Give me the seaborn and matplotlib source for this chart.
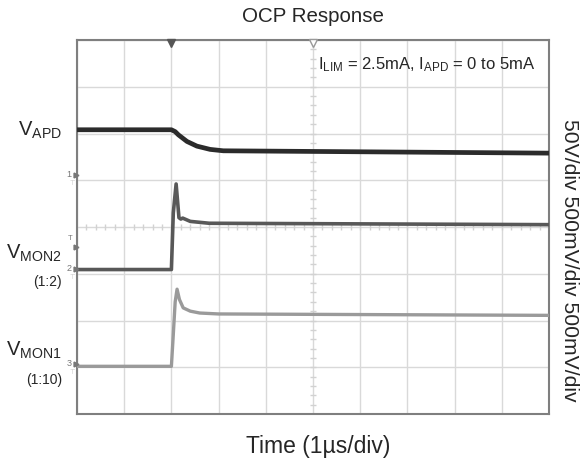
import numpy as np
import pandas as pd
import matplotlib
matplotlib.use('Agg')
import matplotlib.pyplot as plt
import seaborn as sns

# scope traces in divisions (x: 0-10, y: 0-8)
t_apd = [0, 2.0, 2.08, 2.15, 2.33, 2.54, 2.82, 3.1, 10]
v_apd = [6.08, 6.08, 6.04, 5.97, 5.83, 5.73, 5.66, 5.63, 5.58]

t_mon2 = [0, 2.0, 2.04, 2.1, 2.16, 2.2, 2.24, 2.4, 2.8, 10]
v_mon2 = [3.09, 3.09, 4.3, 4.92, 4.2, 4.17, 4.19, 4.12, 4.08, 4.05]

t_mon1 = [0, 2.0, 2.04, 2.08, 2.12, 2.17, 2.25, 2.4, 2.6, 3.0, 10]
v_mon1 = [1.02, 1.02, 1.7, 2.4, 2.67, 2.45, 2.27, 2.2, 2.16, 2.14, 2.11]

# channel ground markers on the left edge
ch_names = ['1', '2', '3']
ch_levels = [5.11, 3.1, 1.07]
trig_level = 3.57

sns.set_style('white')
plt.rcParams['font.family'] = ['Liberation Sans', 'DejaVu Sans']
plt.rcParams['mathtext.fontset'] = 'custom'
plt.rcParams['mathtext.rm'] = 'Liberation Sans'

df = pd.concat([
    pd.DataFrame({'t': t_apd, 'v': v_apd, 'ch': 'VAPD'}),
    pd.DataFrame({'t': t_mon2, 'v': v_mon2, 'ch': 'VMON2'}),
    pd.DataFrame({'t': t_mon1, 'v': v_mon1, 'ch': 'VMON1'}),
])
colors = {'VAPD': '#2b2b2b', 'VMON2': '#585858', 'VMON1': '#9a9a9a'}
widths = {'VAPD': 3.4, 'VMON2': 2.6, 'VMON1': 2.4}

fig = plt.figure(figsize=(5.81, 4.64), dpi=100)
ax = fig.add_axes([77 / 581, 49 / 464, 472 / 581, 374 / 464])

for name, g in df.groupby('ch', sort=False):
    sns.lineplot(data=g, x='t', y='v', ax=ax, color=colors[name],
                 linewidth=widths[name], estimator=None, sort=False, zorder=3)

ax.set_xlim(0, 10)
ax.set_ylim(0, 8)
ax.set_xticks(np.arange(0, 11, 1))
ax.set_yticks(np.arange(0, 9, 1))
ax.set_xticklabels([])
ax.set_yticklabels([])
ax.tick_params(length=0)
ax.grid(True, color='#d9d9d9', linewidth=1)
ax.set_xlabel('')
ax.set_ylabel('')
for s in ax.spines.values():
    s.set_color('#7f7f7f')
    s.set_linewidth(1.5)

# minor ticks on the centre lines
mt = np.arange(0.2, 10, 0.2)
ax.plot(mt, np.full_like(mt, 4.0), ls='none', marker='|', ms=4, color='#d2d2d2', zorder=2)
mt = np.arange(0.2, 8, 0.2)
ax.plot(np.full_like(mt, 5.0), mt, ls='none', marker='_', ms=4, color='#d2d2d2', zorder=2)

# trigger markers on top edge
ax.plot([2.0], [7.93], marker='v', ms=6, color='#555555', clip_on=False, zorder=5)
ax.plot([5.0], [7.93], marker='v', ms=6, mfc='white', mec='#999999', clip_on=False, zorder=5)

# channel markers on left edge
for nm, lv in zip(ch_names, ch_levels):
    ax.plot([-0.02], [lv], marker='>', ms=3.5, color='#777777', clip_on=False, zorder=5)
    ax.text(-0.12, lv + 0.03, nm, ha='right', va='center', fontsize=6.5, color='#777777', clip_on=False)
    ax.text(-0.1, lv - 0.13, r'$\top$', ha='center', va='center', fontsize=5, color='#999999',
            clip_on=False)
ax.plot([-0.02], [trig_level], marker='>', ms=3.5, color='#777777', clip_on=False, zorder=5)
ax.text(-0.1, trig_level + 0.2, 'T', ha='right', va='center', fontsize=5.5, color='#777777', clip_on=False)

fig.text(313 / 581, 1 - 17 / 464, 'OCP Response', ha='center', va='center', fontsize=14.8)
fig.text(318 / 581, 1 - 447 / 464, 'Time (1µs/div)', ha='center', va='center', fontsize=16.5)
fig.text(570 / 581, 1 - 260 / 464, '50V/div 500mV/div 500mV/div', rotation=270,
         ha='center', va='center', fontsize=15.2)
fig.text(318 / 581, 1 - 65 / 464,
         r'$\mathregular{I_{LIM}}$ = 2.5mA, $\mathregular{I_{APD}}$ = 0 to 5mA',
         ha='left', va='center', fontsize=12)

fig.text(62 / 581, 1 - 130 / 464, r'$\mathregular{V_{APD}}$', ha='right', va='center', fontsize=14.5)
fig.text(62 / 581, 1 - 253 / 464, r'$\mathregular{V_{MON2}}$', ha='right', va='center', fontsize=14.5)
fig.text(62 / 581, 1 - 282 / 464, '(1:2)', ha='right', va='center', fontsize=10)
fig.text(62 / 581, 1 - 350 / 464, r'$\mathregular{V_{MON1}}$', ha='right', va='center', fontsize=14.5)
fig.text(62 / 581, 1 - 380 / 464, '(1:10)', ha='right', va='center', fontsize=10)

fig.savefig('out.png', dpi=100)
